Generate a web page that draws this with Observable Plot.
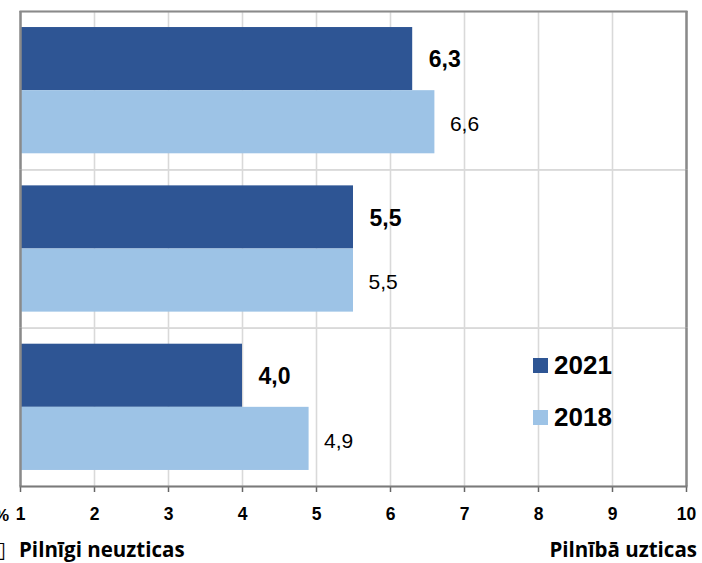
<!DOCTYPE html>
<html><head><meta charset="utf-8">
<script src="https://cdn.jsdelivr.net/npm/d3@7"></script>
<script src="https://cdn.jsdelivr.net/npm/@observablehq/plot@0.6"></script>
<style>
body{margin:0;background:#fff;}
#wrap{position:relative;width:702px;height:563px;overflow:hidden;background:#fff;font-family:"Liberation Sans",Arial,sans-serif;color:#000;}
#wrap svg{position:absolute;left:0;top:0;}
.leg{position:absolute;left:533px;height:30px;display:flex;align-items:center;font-weight:bold;font-size:26px;line-height:30px;}
.leg .sw{display:inline-block;width:15px;height:15px;margin-right:6px;}
.cap{position:absolute;font-family:"Open Sans",Lato,sans-serif;font-weight:bold;font-size:20.5px;line-height:22px;white-space:nowrap;}
</style></head><body><div id="wrap"></div>
<script>
const categories = ["Grupa 1", "Grupa 2", "Grupa 3"];
const years = ["2021", "2018"];
const values2021 = [6.3, 5.5, 4.0];
const values2018 = [6.6, 5.5, 4.9];
const xTicks = [1, 2, 3, 4, 5, 6, 7, 8, 9, 10];
const colors = ["#2E5594", "#9DC3E6"];
const leftCaption = "Pilnīgi neuzticas";
const rightCaption = "Pilnībā uzticas";
const unitLabel = "%";

const rows = categories.flatMap((c, i) => [
  {cat: c, year: years[0], value: values2021[i]},
  {cat: c, year: years[1], value: values2018[i]}
]);
const fmt = v => d3.format(".1f")(v).replace(".", ",");
const xMin = xTicks[0], xMax = xTicks[xTicks.length - 1];

const plot = Plot.plot({
  width: 702, height: 563,
  marginLeft: 20, marginRight: 16, marginTop: 11, marginBottom: 77,
  style: {fontFamily: "'Liberation Sans', Arial, sans-serif", color: "#000", background: "#fff"},
  x: {domain: [xMin, xMax], label: null},
  y: {domain: years, paddingInner: 0, paddingOuter: 0.254, axis: null, round: false, label: null},
  fy: {domain: categories, padding: 0, axis: null, round: false, label: null},
  color: {domain: years, range: colors},
  marks: [
    Plot.gridX(xTicks.slice(1, -1), {stroke: "#d9d9d9", strokeOpacity: 1, strokeWidth: 1.6}),
    Plot.frame({stroke: "#d9d9d9", strokeWidth: 1.6}),
    Plot.barX(rows, {fy: "cat", y: "year", x1: xMin, x2: "value", fill: "year"}),
    Plot.text(rows, {filter: d => d.year === years[0], fy: "cat", y: "year", x: "value", text: d => fmt(d.value),
      textAnchor: "start", dx: 16, dy: 1, fontSize: 23, fontWeight: "bold", fill: "#000"}),
    Plot.text(rows, {filter: d => d.year === years[1], fy: "cat", y: "year", x: "value", text: d => fmt(d.value),
      textAnchor: "start", dx: 15, dy: 2, fontSize: 21, fill: "#000"}),
    Plot.ruleX([xMin, xMax], {stroke: "#8a8a8a", strokeWidth: 2.5}),
    Plot.frame({anchor: "top", facetAnchor: "top", stroke: "#8a8a8a", strokeWidth: 2}),
    Plot.axisX(xTicks, {anchor: "bottom", label: null, tickSize: 6, tickPadding: 15, fontSize: 17.5, fontWeight: "bold",
      stroke: "#666", strokeWidth: 1.5, fill: "#000", tickFormat: d => String(d)}),
    Plot.frame({anchor: "bottom", facetAnchor: "bottom", stroke: "#7a7a7a", strokeWidth: 2})
  ]
});

const wrap = document.getElementById("wrap");
wrap.appendChild(plot);

// legend
const legTops = [350, 402];
years.forEach((y, i) => {
  const d = document.createElement("div");
  d.className = "leg";
  d.style.top = legTops[i] + "px";
  d.innerHTML = `<span class="sw" style="background:${colors[i]}"></span><span>${y}</span>`;
  wrap.appendChild(d);
});

// captions
const pct = document.createElement("div");
pct.className = "cap";
pct.style.cssText = "left:-6px;top:505px;font-family:'Liberation Sans',Arial,sans-serif;font-size:17px;";
pct.textContent = unitLabel;
wrap.appendChild(pct);

const box = document.createElement("div");
box.className = "cap";
box.style.cssText = "left:-6px;top:539px;font-family:'DejaVu Sans';font-weight:normal;font-size:22px;";
box.textContent = "\u25AF";
wrap.appendChild(box);

const lc = document.createElement("div");
lc.className = "cap";
lc.style.left = "19px"; lc.style.top = "538px";
lc.textContent = leftCaption;
wrap.appendChild(lc);

const rc = document.createElement("div");
rc.className = "cap";
rc.style.right = "5px"; rc.style.top = "538px";
rc.textContent = rightCaption;
wrap.appendChild(rc);
</script>
</body></html>
